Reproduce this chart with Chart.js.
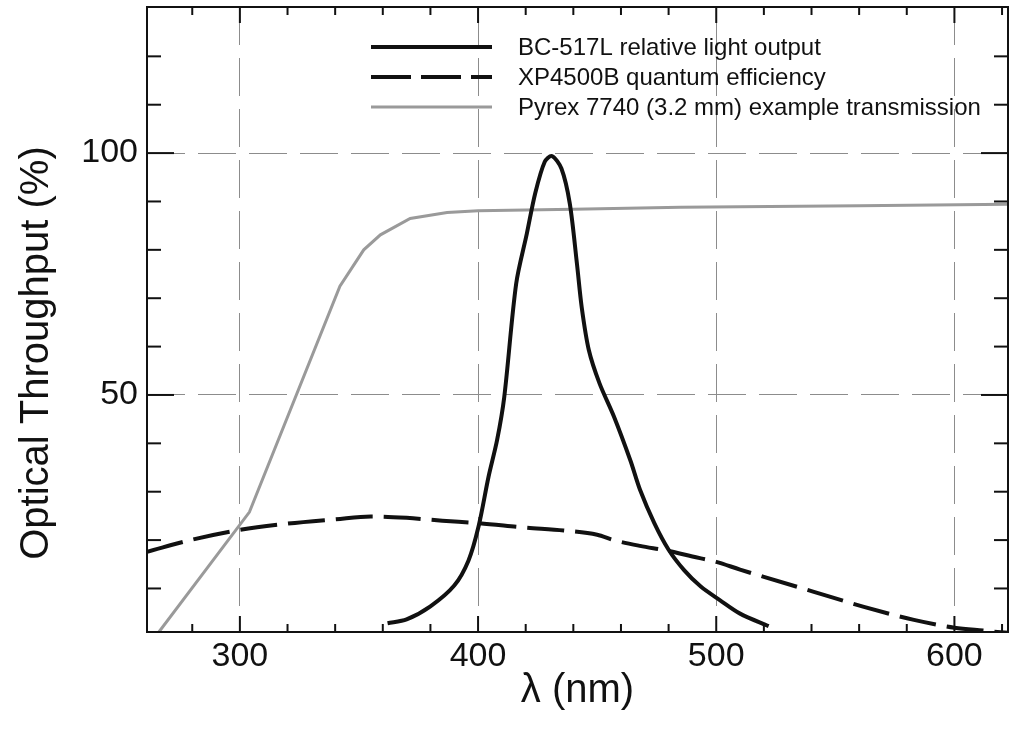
<!DOCTYPE html>
<html>
<head>
<meta charset="utf-8">
<script src="https://cdn.jsdelivr.net/npm/chart.js@4/dist/chart.umd.min.js"></script>
<style>
  body { margin: 0; background: #fff; }
  canvas { display: block; }
</style>
</head>
<body>
<canvas id="spectra" width="1010" height="730"></canvas>
<script>
// wavelength (nm) / value (%)
const bcWavelength = [362, 370, 380, 390, 396, 400.2, 404.4, 408, 411, 416, 420.5, 424, 428, 431, 435, 438.5, 441.5, 443.5, 446.5, 451, 457, 464, 468, 474, 480, 486.5, 493.5, 501.5, 510, 522];
const bcOutput     = [2.8, 3.6, 6.3, 10.6, 15.8, 22.8, 33.1, 40.7, 49.6, 73, 83.4, 91.7, 98.2, 99.4, 96.8, 89.6, 77.2, 68.2, 59.3, 52.4, 45.6, 36.4, 30.4, 23.5, 18, 13.8, 10.4, 7.6, 4.8, 2.2];

const xpWavelength = [261, 280, 300, 320, 340, 355, 370, 385, 400, 420, 436, 450, 457, 468, 479.5, 490, 500, 510, 520, 541, 562, 583, 600, 612, 623];
const xpQE         = [17.6, 20.1, 22.1, 23.4, 24.3, 24.9, 24.6, 24.0, 23.5, 22.6, 22.0, 21.1, 20.0, 18.8, 17.8, 16.6, 15.5, 13.9, 12.4, 9.3, 6.2, 3.5, 1.9, 1.3, 0.8];

const pyrexWavelength = [266, 304, 342, 352, 359, 371.5, 387, 400, 440, 485, 560, 622.5];
const pyrexTrans      = [1, 25.8, 72.5, 80, 83.1, 86.5, 87.7, 88.1, 88.4, 88.8, 89.1, 89.4];

const seriesLabels = [
    'BC-517L relative light output',
    'XP4500B quantum efficiency',
    'Pyrex 7740 (3.2 mm) example transmission'
];

const xMajor = [300, 400, 500, 600];
const xMinor = [280, 320, 340, 360, 380, 420, 440, 460, 480, 520, 540, 560, 580, 620];
const yMajor = [50, 100];
const yMinor = [10, 20, 30, 40, 60, 70, 80, 90, 110, 120];

const FONT = "'Liberation Sans', Arial, sans-serif";

const toPoints = (xs, ys) => xs.map((v, i) => ({ x: v, y: ys[i] }));

// frame + inward tick marks on all four sides
const frameTicks = {
    id: 'frameTicks',
    afterDatasetsDraw(chart) {
        const { ctx, chartArea: a, scales: { x, y } } = chart;
        ctx.save();
        ctx.strokeStyle = '#111';
        ctx.lineWidth = 2;
        const line = (x1, y1, x2, y2) => {
            ctx.beginPath();
            ctx.moveTo(x1, y1);
            ctx.lineTo(x2, y2);
            ctx.stroke();
        };
        xMajor.concat(xMinor).forEach(v => {
            const px = x.getPixelForValue(v);
            const len = xMajor.includes(v) ? 16 : 8;
            line(px, a.bottom, px, a.bottom - len);
            line(px, a.top, px, a.top + len);
        });
        yMajor.concat(yMinor).forEach(v => {
            const py = y.getPixelForValue(v);
            const len = yMajor.includes(v) ? 27 : 14;
            line(a.left, py, a.left + len, py);
            line(a.right, py, a.right - len, py);
        });
        ctx.strokeRect(a.left, a.top, a.right - a.left, a.bottom - a.top);
        ctx.restore();
    }
};

// legend inside the plot + axis titles
const labelsPlugin = {
    id: 'labelsPlugin',
    afterDraw(chart) {
        const { ctx, chartArea: a } = chart;
        ctx.save();
        const rows = [47, 77, 107];
        chart.data.datasets.forEach((ds, i) => {
            ctx.strokeStyle = ds.borderColor;
            ctx.lineWidth = ds.borderWidth;
            ctx.setLineDash(ds.borderDash ? [40, 10] : []);
            ctx.beginPath();
            ctx.moveTo(371, rows[i]);
            ctx.lineTo(492, rows[i]);
            ctx.stroke();
            ctx.setLineDash([]);
            ctx.fillStyle = '#111';
            ctx.font = '24px ' + FONT;
            ctx.textAlign = 'left';
            ctx.textBaseline = 'middle';
            ctx.fillText(ds.label, 518, rows[i] + 1);
        });

        ctx.fillStyle = '#111';
        ctx.font = '40px ' + FONT;
        ctx.textAlign = 'center';
        ctx.textBaseline = 'alphabetic';
        ctx.fillText('λ (nm)', (a.left + a.right) / 2, 702);

        ctx.translate(48, 353);
        ctx.rotate(-Math.PI / 2);
        ctx.fillText('Optical Throughput (%)', 0, 0);
        ctx.restore();
    }
};

const ctx = document.getElementById('spectra').getContext('2d');
const spectra = new Chart(ctx, {
    type: 'line',
    data: {
        datasets: [{
            label: seriesLabels[0],
            data: toPoints(bcWavelength, bcOutput),
            borderColor: '#111111',
            borderWidth: 4,
            tension: 0.3,
            pointRadius: 0
        }, {
            label: seriesLabels[1],
            data: toPoints(xpWavelength, xpQE),
            borderColor: '#111111',
            borderWidth: 4,
            borderDash: [37, 11],
            cubicInterpolationMode: 'monotone',
            pointRadius: 0
        }, {
            label: seriesLabels[2],
            data: toPoints(pyrexWavelength, pyrexTrans),
            borderColor: '#9a9a9a',
            borderWidth: 3,
            tension: 0,
            pointRadius: 0
        }]
    },
    options: {
        responsive: false,
        animation: false,
        devicePixelRatio: 1,
        layout: { padding: { top: 7, right: 2, left: 0, bottom: 0 } },
        plugins: {
            legend: { display: false },
            tooltip: { enabled: false }
        },
        scales: {
            x: {
                type: 'linear',
                min: 261,
                max: 622.5,
                afterBuildTicks: scale => { scale.ticks = xMajor.map(v => ({ value: v })); },
                afterFit: scale => {
                    scale.height = 98;
                    scale.paddingLeft = 0;
                    scale.paddingRight = 0;
                },
                ticks: {
                    color: '#111',
                    font: { family: FONT, size: 34 },
                    padding: 4,
                    maxRotation: 0
                },
                grid: { color: '#8c8c8c', lineWidth: 1, drawTicks: false },
                border: { display: false, dash: [38, 13] }
            },
            y: {
                min: 1,
                max: 130.2,
                afterBuildTicks: scale => { scale.ticks = yMajor.map(v => ({ value: v })); },
                afterFit: scale => {
                    scale.width = 147;
                    scale.paddingTop = 0;
                    scale.paddingBottom = 0;
                },
                ticks: {
                    color: '#111',
                    font: { family: FONT, size: 34 },
                    padding: 9
                },
                grid: { color: '#8c8c8c', lineWidth: 1, drawTicks: false },
                border: { display: false, dash: [38, 13] }
            }
        }
    },
    plugins: [frameTicks, labelsPlugin]
});
</script>
</body>
</html>
